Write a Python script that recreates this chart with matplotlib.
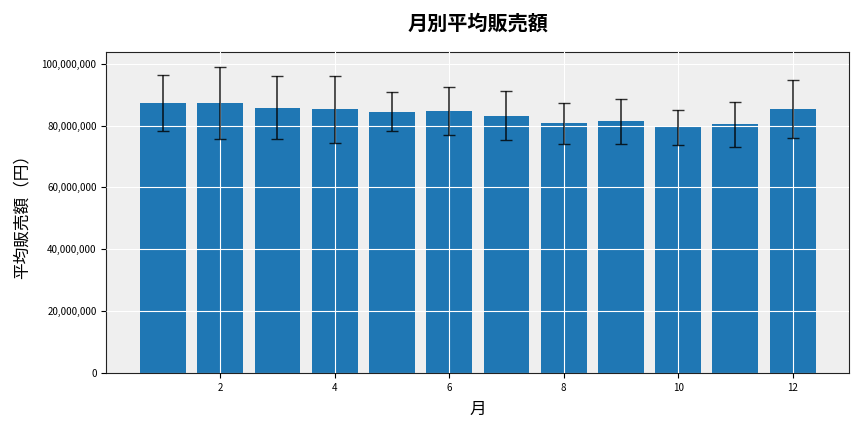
import matplotlib
matplotlib.use("Agg")
import matplotlib.pyplot as plt
from matplotlib.ticker import FuncFormatter

plt.rcParams['font.family'] = ['Noto Sans CJK JP', 'DejaVu Sans']

# 月別の平均販売額と標準偏差
months = [1, 2, 3, 4, 5, 6, 7, 8, 9, 10, 11, 12]
avg_sales = [87.2e6, 87.2e6, 85.8e6, 85.2e6, 84.5e6, 84.8e6,
             83.2e6, 80.7e6, 81.4e6, 79.5e6, 80.4e6, 85.3e6]
std_sales = [9.0e6, 11.7e6, 10.3e6, 10.8e6, 6.3e6, 7.7e6,
             7.9e6, 6.75e6, 7.25e6, 5.65e6, 7.25e6, 9.35e6]

fig, ax = plt.subplots(figsize=(8.64, 4.32), dpi=100)
ax.set_facecolor('#efefef')

ax.bar(months, avg_sales, color='#1f77b4', zorder=1)
ax.grid(True, color='white', linewidth=0.8, zorder=2)
ax.set_axisbelow(False)
ax.errorbar(months, avg_sales, yerr=std_sales, fmt='none', ecolor='black',
            capsize=4, elinewidth=1.2, alpha=0.8, zorder=3)

ax.yaxis.set_major_formatter(FuncFormatter(lambda v, p: f'{int(v):,}'))
ax.tick_params(labelsize=7)
for s in ax.spines.values():
    s.set_color('#222222')

ax.set_title('月別平均販売額', fontsize=14.5, fontweight='bold', pad=16)
ax.set_xlabel('月', fontsize=12, labelpad=6)
ax.set_ylabel('平均販売額（円）', fontsize=12, labelpad=8)

fig.subplots_adjust(left=0.123, right=0.983, top=0.88, bottom=0.137)
fig.savefig('out.png')
